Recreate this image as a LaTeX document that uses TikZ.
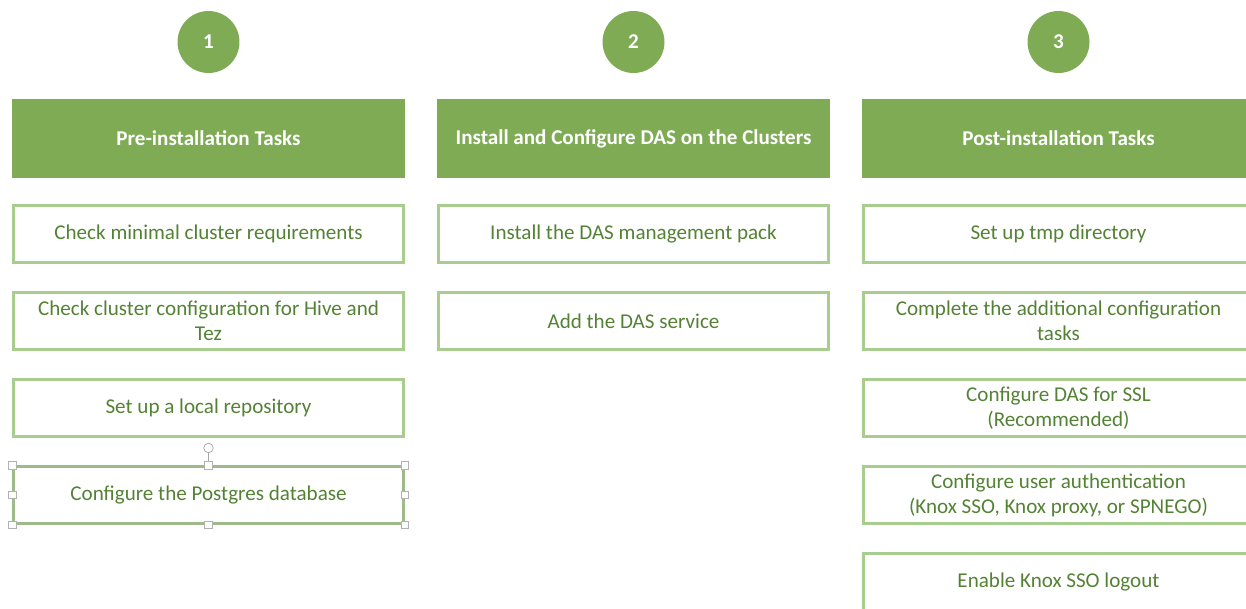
\documentclass[tikz,border=0pt]{standalone}
\usepackage{fontspec}
\setmainfont{Carlito}
\definecolor{dasgreen}{HTML}{7FAB55}
\definecolor{dasline}{HTML}{A9CD8E}
\definecolor{dastext}{HTML}{548235}

\begin{document}
\begin{tikzpicture}[x=0.02cm, y=-0.02cm, line width=0.4pt,
  font=\fontsize{12pt}{14.2pt}\selectfont,
  stepnum/.style={circle, fill=dasgreen, minimum size=1.24cm, inner sep=0pt,
    text=white, font=\fontsize{12pt}{14.2pt}\selectfont\bfseries},
  header/.style={rectangle, fill=dasgreen, minimum width=7.86cm, minimum height=1.58cm,
    text=white, font=\fontsize{12pt}{14.2pt}\selectfont\bfseries},
  task/.style={rectangle, draw=dasline, line width=1.7pt, minimum width=7.8cm,
    minimum height=1.14cm, align=center, text=dastext},
  handle/.style={rectangle, draw=gray!60, fill=white, line width=0.4pt,
    minimum size=0.15cm, inner sep=0pt}]
  \useasboundingbox (0,0) rectangle (1246,608);
  \clip (0,0) rectangle (1246,608);

  % step numbers
  \node[stepnum] (num1) at (208.5,42) {1};
  \node[stepnum] (num2) at (633.5,42) {2};
  \node[stepnum] (num3) at (1058.5,42) {3};

  % column headers
  \node[header] (head1) at (208.5,138.5) {Pre-installation Tasks};
  \node[header] (head2) at (633.5,138.5) {Install and Configure DAS on the Clusters};
  \node[header] (head3) at (1058.5,138.5) {Post-installation Tasks};

  % pre-installation
  \node[task] (pre1) at (208.5,234) {Check minimal cluster requirements};
  \node[task] (pre2) at (208.5,321) {Check cluster configuration for Hive and\\Tez};
  \node[task] (pre3) at (208.5,408) {Set up a local repository};
  \node[task, draw=dasline!75!gray, line width=1.3pt] (pre4) at (208.5,495)
    {Configure the Postgres database};

  % install and configure
  \node[task] (das1) at (633.5,234) {Install the DAS management pack};
  \node[task] (das2) at (633.5,321) {Add the DAS service};

  % post-installation
  \node[task] (post1) at (1058.5,234) {Set up tmp directory};
  \node[task] (post2) at (1058.5,321) {Complete the additional configuration\\tasks};
  \node[task] (post3) at (1058.5,408) {Configure DAS for SSL\\(Recommended)};
  \node[task] (post4) at (1058.5,495) {Configure user authentication\\(Knox SSO, Knox proxy, or SPNEGO)};
  \node[task] (post5) at (1058.5,582) {Enable Knox SSO logout};

  % selection handles
  \node[circle, draw=gray!70, fill=white, minimum size=0.19cm, inner sep=0pt] (rot) at (208.5,448) {};
  \draw[gray!70] (rot) -- (pre4.north);
  \node[handle] at (pre4.north west) {};
  \node[handle] at (pre4.north) {};
  \node[handle] at (pre4.north east) {};
  \node[handle] at (pre4.west) {};
  \node[handle] at (pre4.east) {};
  \node[handle] at (pre4.south west) {};
  \node[handle] at (pre4.south) {};
  \node[handle] at (pre4.south east) {};
\end{tikzpicture}
\end{document}
